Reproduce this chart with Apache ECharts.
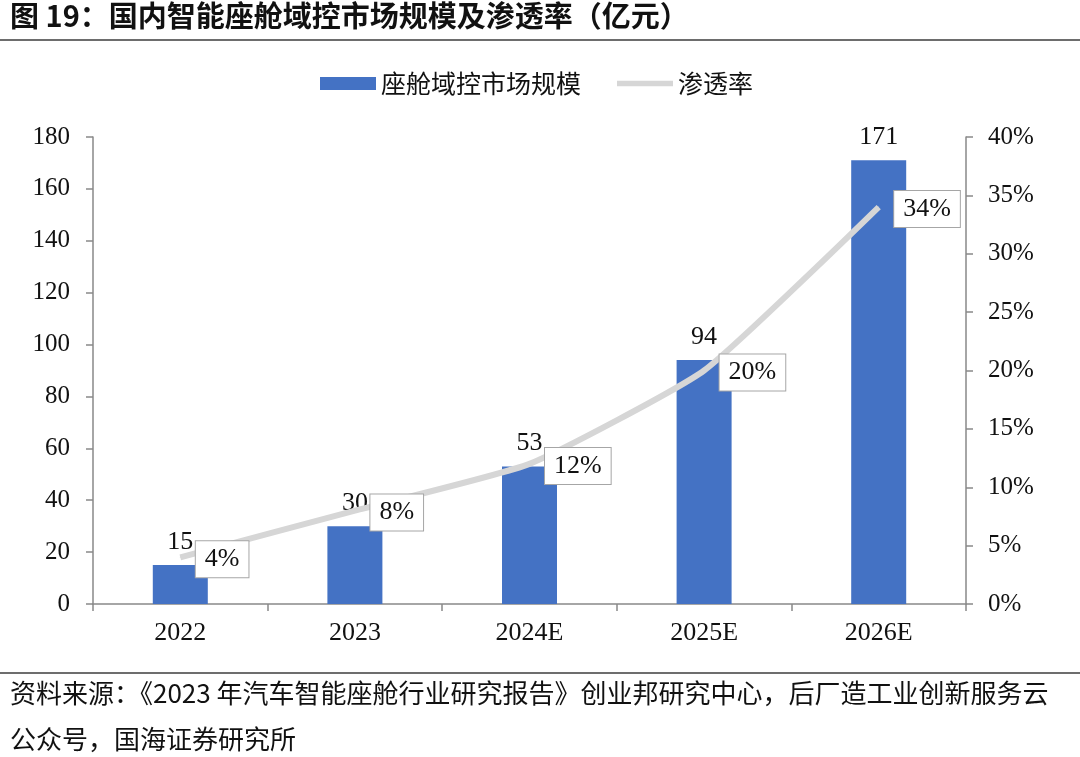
<!DOCTYPE html>
<html>
<head>
<meta charset="utf-8">
<script src="https://cdn.jsdelivr.net/npm/echarts@6/dist/echarts.min.js"></script>
<style>
html,body{margin:0;padding:0;background:#fff;}
#c{width:1080px;height:757px;}
</style>
</head>
<body>
<div id="c"></div>
<script>
const categories = ['2022', '2023', '2024E', '2025E', '2026E'];
const marketSize = [15, 30, 53, 94, 171];
const penetration = [4, 8, 12, 20, 34];
const leftTicks = [0, 20, 40, 60, 80, 100, 120, 140, 160, 180];
const rightTicksPct = [0, 5, 10, 15, 20, 25, 30, 35, 40];
const titleText = '图 19：国内智能座舱域控市场规模及渗透率（亿元）';
const sourceLine1 = '资料来源：《2023 年汽车智能座舱行业研究报告》创业邦研究中心，后厂造工业创新服务云';
const sourceLine2 = '公众号，国海证券研究所';
const seriesNames = ['座舱域控市场规模', '渗透率'];

const serif = '"Liberation Serif", "Times New Roman", "Noto Sans CJK SC", serif';
const cjk = '"Noto Sans CJK SC", sans-serif';
const axisColor = '#898989';

const chart = echarts.init(document.getElementById('c'));
chart.setOption({
  animation: false,
  backgroundColor: '#fff',
  graphic: [
    { type: 'text', left: 10, top: 1, style: { text: titleText, font: 'bold 29px ' + cjk, fill: '#111' } },
    { type: 'rect', shape: { x: 0, y: 39, width: 1080, height: 2 }, style: { fill: '#6d6d6d' } },
    { type: 'rect', shape: { x: 0, y: 672, width: 1080, height: 2 }, style: { fill: '#6d6d6d' } },
    { type: 'text', left: 10, top: 680, style: { text: sourceLine1, font: '26px ' + cjk, fill: '#111' } },
    { type: 'text', left: 10, top: 726, style: { text: sourceLine2, font: '26px ' + cjk, fill: '#111' } }
  ],
  legend: {
    top: 66,
    left: 315,
    itemGap: 36,
    itemWidth: 56,
    itemHeight: 13,
    textStyle: { fontFamily: cjk, fontSize: 25, color: '#111' },
    data: [
      { name: seriesNames[0], icon: 'rect' },
      { name: seriesNames[1], icon: 'path://M0,0 L60,0 L60,6 L0,6 Z' }
    ]
  },
  grid: { left: 93, right: 114, top: 137, bottom: 153 },
  xAxis: {
    type: 'category',
    data: categories,
    axisLine: { lineStyle: { color: axisColor, width: 1.5 } },
    axisTick: { show: true, length: 7, lineStyle: { color: axisColor, width: 1.5 } },
    axisLabel: { fontFamily: serif, fontSize: 26, color: '#111', margin: 16 }
  },
  yAxis: [
    {
      type: 'value', min: 0, max: 180, interval: 20,
      axisLine: { show: true, lineStyle: { color: axisColor, width: 1.5 } },
      axisTick: { show: true, length: 7, lineStyle: { color: axisColor, width: 1.5 } },
      splitLine: { show: false },
      axisLabel: { fontFamily: serif, fontSize: 25, color: '#111', margin: 23,
        formatter: v => leftTicks.includes(v) ? String(v) : '' }
    },
    {
      type: 'value', min: 0, max: 40, interval: 5, position: 'right',
      axisLine: { show: true, lineStyle: { color: axisColor, width: 1.5 } },
      axisTick: { show: true, length: 7, lineStyle: { color: axisColor, width: 1.5 } },
      splitLine: { show: false },
      axisLabel: { fontFamily: serif, fontSize: 25, color: '#111', margin: 22,
        formatter: v => rightTicksPct.includes(v) ? v + '%' : '' }
    }
  ],
  series: [
    {
      name: seriesNames[0],
      type: 'bar',
      data: marketSize,
      barWidth: 55,
      itemStyle: { color: '#4472C4' },
      label: { show: true, position: 'top', distance: 10, fontFamily: serif, fontSize: 26, color: '#111' }
    },
    {
      name: seriesNames[1],
      type: 'line',
      yAxisIndex: 1,
      data: penetration,
      smooth: 0.15,
      showSymbol: true,
      symbol: 'circle',
      symbolSize: 1,
      lineStyle: { color: '#D6D6D6', width: 6 },
      itemStyle: { color: '#D6D6D6' },
      label: {
        show: true, position: 'right', distance: 15, offset: [0, 2],
        formatter: p => p.value + '%',
        fontFamily: serif, fontSize: 26, color: '#111',
        backgroundColor: '#fff', borderColor: '#A6A6A6', borderWidth: 1,
        padding: [6, 9, 4, 9]
      }
    }
  ]
});
</script>
</body>
</html>
